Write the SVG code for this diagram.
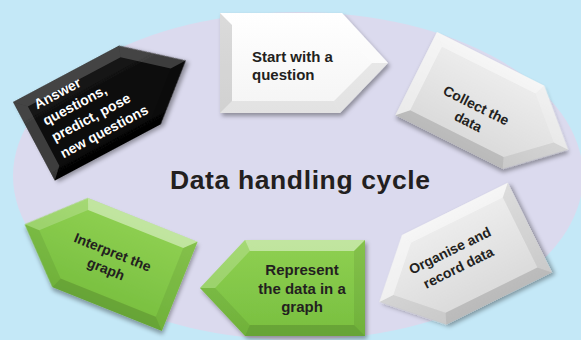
<svg xmlns="http://www.w3.org/2000/svg" width="581" height="340" viewBox="0 0 581 340">
  <defs>
    <filter id="sh" x="-20%" y="-20%" width="140%" height="140%">
      <feDropShadow dx="2" dy="3" stdDeviation="2" flood-color="#000" flood-opacity="0.35"/>
    </filter>
    <linearGradient id="gWhite" x1="0" y1="0" x2="0" y2="1">
      <stop offset="0" stop-color="#ffffff"/>
      <stop offset="1" stop-color="#f4f4f4"/>
    </linearGradient>
    <linearGradient id="gGray" x1="0" y1="0" x2="0" y2="1">
      <stop offset="0" stop-color="#eeeeee"/>
      <stop offset="1" stop-color="#d9d9d9"/>
    </linearGradient>
    <linearGradient id="gGreen" x1="0" y1="0" x2="0" y2="1">
      <stop offset="0" stop-color="#8fd052"/>
      <stop offset="1" stop-color="#78bf3f"/>
    </linearGradient>
    <linearGradient id="gBlack" x1="0" y1="0" x2="0" y2="1">
      <stop offset="0" stop-color="#161616"/>
      <stop offset="1" stop-color="#050505"/>
    </linearGradient>
  </defs>
  <style>
    .lt { fill: #ffffff; fill-opacity: 0.45; }
    .l2 { fill: #ffffff; fill-opacity: 0.2; }
    .d1 { fill: #000000; fill-opacity: 0.07; }
    .d2 { fill: #000000; fill-opacity: 0.14; }
    .t { font-family: "Liberation Sans", Arial, sans-serif; font-weight: bold; fill: #231f20; }
    .w { fill: #ffffff; }
    .m { text-anchor: middle; }
  </style>

  <rect x="0" y="0" width="581" height="340" fill="#c4e8f7"/>
  <ellipse cx="298" cy="176" rx="285" ry="164" fill="#dbdaee"/>

  <text class="t m" x="300" y="189" font-size="26.5" textLength="260" lengthAdjust="spacing">Data handling cycle</text>

  <g id="node-start" transform="translate(220,13)">
    <polygon points="0,0 122,0 168,50 120,100 0,100" fill="url(#gWhite)" filter="url(#sh)"/>
    <polygon class="l2" points="0,0 122,0 116,12 12,12"/>
    <polygon class="l2" points="122,0 168,50 152,50 116,12"/>
    <polygon class="d1" points="168,50 120,100 114,88 152,50"/>
    <polygon class="d1" points="120,100 0,100 12,88 114,88"/>
    <polygon class="d2" points="0,100 0,0 12,12 12,88"/>
    <text class="t" font-size="15" x="32" y="49">Start with a</text>
    <text class="t" font-size="15" x="32" y="67">question</text>
  </g>

  <g id="node-collect" transform="translate(437,32) rotate(26.6)">
    <polygon points="0,0 120,0 170,46.5 120,93 0,93" fill="url(#gGray)" filter="url(#sh)"/>
    <polygon class="lt" points="0,0 120,0 115.6,11 11,11"/>
    <polygon class="l2" points="120,0 170,46.5 153.8,46.5 115.6,11"/>
    <polygon class="d1" points="170,46.5 120,93 115.6,82 153.8,46.5"/>
    <polygon class="d2" points="120,93 0,93 11,82 115.6,82"/>
    <polygon class="lt" points="0,93 0,0 11,11 11,82"/>
    <text class="t m" font-size="14" x="68" y="53">Collect the</text>
    <text class="t m" font-size="14" x="68" y="71">data</text>
  </g>

  <g id="node-organise" transform="translate(357.2,257.2) rotate(-26.3)">
    <polygon points="50,0 168,0 168,100 50,100 0,50" fill="url(#gGray)" filter="url(#sh)"/>
    <polygon class="lt" points="50,0 168,0 157,11 54.6,11"/>
    <polygon class="d1" points="168,0 168,100 157,89 157,11"/>
    <polygon class="d2" points="168,100 50,100 54.6,89 157,89"/>
    <polygon class="d1" points="50,100 0,50 15.6,50 54.6,89"/>
    <polygon class="lt" points="0,50 50,0 54.6,11 15.6,50"/>
    <text class="t m" font-size="14" x="86" y="40">Organise and</text>
    <text class="t m" font-size="14" x="86" y="59">record data</text>
  </g>

  <g id="node-represent" transform="translate(200,240)">
    <polygon points="45,0 165,0 165,96 45,96 0,48" fill="url(#gGreen)" filter="url(#sh)"/>
    <polygon class="lt" points="45,0 165,0 154,11 49.8,11"/>
    <polygon class="d1" points="165,0 165,96 154,85 154,11"/>
    <polygon class="d2" points="165,96 45,96 49.8,85 154,85"/>
    <polygon class="d1" points="45,96 0,48 15.1,48 49.8,85"/>
    <polygon class="l2" points="0,48 45,0 49.8,11 15.1,48"/>
    <text class="t m" font-size="15" x="102" y="35">Represent</text>
    <text class="t m" font-size="15" x="102" y="54">the data in a</text>
    <text class="t m" font-size="15" x="102" y="72">graph</text>
  </g>

  <g id="node-interpret" transform="translate(42.5,179.8) rotate(21.8)">
    <polygon points="49,0 167,0 167,96 49,96 0,48" fill="url(#gGreen)" filter="url(#sh)"/>
    <polygon class="lt" points="49,0 167,0 156,11 53.5,11"/>
    <polygon class="d1" points="167,0 167,96 156,85 156,11"/>
    <polygon class="d2" points="167,96 49,96 53.5,85 156,85"/>
    <polygon class="d1" points="49,96 0,48 15.7,48 53.5,85"/>
    <polygon class="l2" points="0,48 49,0 53.5,11 15.7,48"/>
    <text class="t m" font-size="14" x="92" y="46">Interpret the</text>
    <text class="t m" font-size="14" x="92" y="64">graph</text>
  </g>

  <g id="node-answer" transform="translate(13,102) rotate(-28)">
    <polygon points="0,0 120,0 172,44.5 120,89 0,89" fill="url(#gBlack)" filter="url(#sh)"/>
    <polygon class="l2" points="0,0 120,0 116,11 11,11"/>
    <polygon class="l2" points="120,0 172,44.5 155,44.5 116,11"/>
    <polygon class="d2" points="172,44.5 120,89 116,78 155,44.5"/>
    <polygon class="d2" points="120,89 0,89 11,78 116,78"/>
    <polygon class="l2" points="0,89 0,0 11,11 11,78"/>
    <text class="t w" font-size="14" x="18" y="18">Answer</text>
    <text class="t w" font-size="14" x="18" y="36.5">questions,</text>
    <text class="t w" font-size="14" x="18" y="55">predict, pose</text>
    <text class="t w" font-size="14" x="18" y="73.5">new questions</text>
  </g>
</svg>
